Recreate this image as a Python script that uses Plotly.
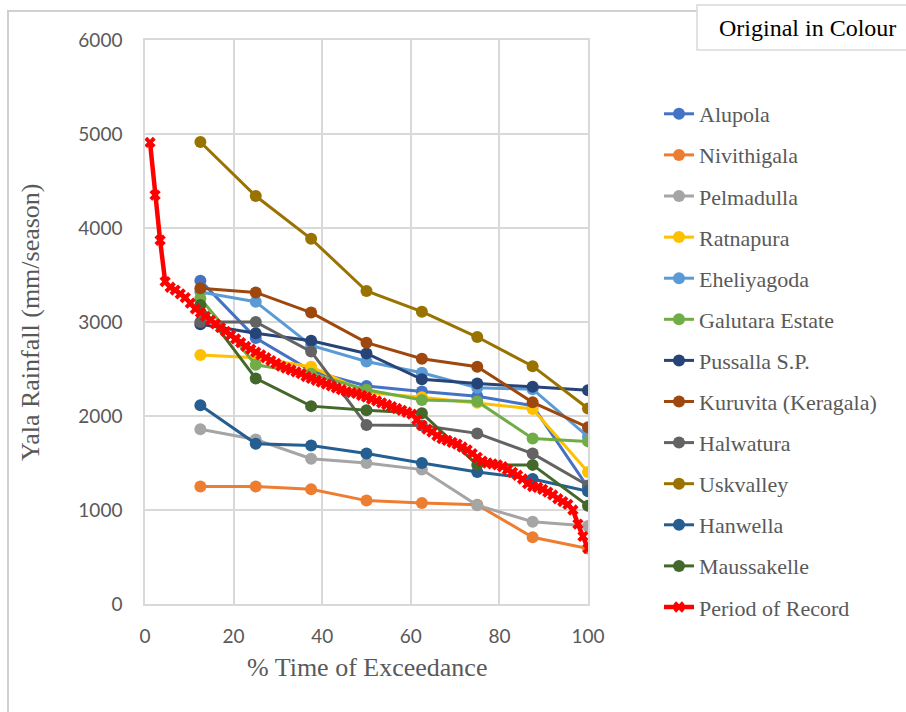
import plotly.graph_objects as go

# Exceedance positions (%) of the eight station quantiles
station_pct = [12.5, 25, 37.5, 50, 62.5, 75, 87.5, 100]

# Seasonal (Yala) rainfall in mm/season at each exceedance level
alupola = [3440, 2830, 2480, 2320, 2260, 2210, 2110, 1240]
nivithigala = [1250, 1250, 1220, 1100, 1075, 1055, 710, 590]
pelmadulla = [1860, 1750, 1545, 1500, 1430, 1050, 875, 830]
ratnapura = [2650, 2620, 2525, 2250, 2200, 2140, 2075, 1405]
eheliyagoda = [3320, 3215, 2750, 2580, 2460, 2300, 2285, 1780]
galutara = [3250, 2545, 2450, 2280, 2170, 2155, 1760, 1730]
pussalla = [2975, 2880, 2800, 2665, 2390, 2345, 2310, 2275]
kuruvita = [3360, 3315, 3100, 2780, 2610, 2525, 2145, 1880]
halwatura = [3000, 3000, 2685, 1905, 1900, 1815, 1600, 1260]
uskvalley = [4915, 4340, 3885, 3330, 3110, 2840, 2530, 2080]
hanwella = [2115, 1705, 1685, 1600, 1500, 1405, 1330, 1200]
maussakelle = [3180, 2400, 2105, 2060, 2030, 1480, 1480, 1045]

# Full period of record, ranked (88 seasons)
record_vals = [
    4910, 4350, 3870, 3430, 3370, 3340, 3300, 3260, 3200, 3140,
    3100, 3060, 3020, 2980, 2940, 2900, 2860, 2820, 2780, 2740,
    2710, 2680, 2650, 2620, 2590, 2560, 2530, 2510, 2490, 2470,
    2450, 2420, 2400, 2380, 2360, 2340, 2320, 2300, 2280, 2260,
    2250, 2240, 2220, 2200, 2180, 2160, 2140, 2120, 2100, 2080,
    2060, 2040, 2020, 1960, 1900, 1860, 1830, 1790, 1760, 1740,
    1720, 1700, 1670, 1640, 1600, 1560, 1520, 1500, 1490, 1480,
    1460, 1430, 1400, 1370, 1330, 1280, 1250, 1240, 1220, 1190,
    1160, 1120, 1090, 1060, 1000, 850, 720, 590,
]
record_pct = [100.0 * (i + 1) / len(record_vals) for i in range(len(record_vals))]

x_ticks = [0, 20, 40, 60, 80, 100]
y_ticks = [0, 1000, 2000, 3000, 4000, 5000, 6000]

stations = [
    ("Alupola", alupola, "#4472C4"),
    ("Nivithigala", nivithigala, "#ED7D31"),
    ("Pelmadulla", pelmadulla, "#A5A5A5"),
    ("Ratnapura", ratnapura, "#FFC000"),
    ("Eheliyagoda", eheliyagoda, "#5B9BD5"),
    ("Galutara Estate", galutara, "#70AD47"),
    ("Pussalla S.P.", pussalla, "#264478"),
    ("Kuruvita (Keragala)", kuruvita, "#9E480E"),
    ("Halwatura", halwatura, "#636363"),
    ("Uskvalley", uskvalley, "#997300"),
    ("Hanwella", hanwella, "#255E91"),
    ("Maussakelle", maussakelle, "#43682B"),
]

W, H = 906, 712
L, R, T, B = 145, 318, 40, 108
PW, PH = W - L - R, H - T - B


def px(x):
    return (x - L) / PW


def py(y):
    return (H - B - y) / PH


fig = go.Figure()

for name, vals, color in stations:
    fig.add_trace(go.Scatter(
        x=station_pct, y=vals, name=name, legendgroup=name,
        mode="lines+markers",
        line=dict(color=color, width=3),
        marker=dict(symbol="circle", size=12, color=color),
    ))

fig.add_trace(go.Scatter(
    x=record_pct, y=record_vals, name="Period of Record", legendgroup="record",
    mode="lines+markers",
    line=dict(color="#FF0000", width=4.5),
    marker=dict(symbol="x", size=10, color="#FF0000"),
))

serif = "Liberation Serif, Times New Roman, serif"
grey_txt = "#595959"

fig.update_layout(
    width=W, height=H,
    margin=dict(l=L, r=R, t=T, b=B),
    paper_bgcolor="white", plot_bgcolor="white",
    showlegend=True,
    legend=dict(
        x=px(659), y=py(93), xanchor="left", yanchor="top",
        font=dict(family=serif, size=22, color=grey_txt),
        tracegroupgap=9.5, bgcolor="rgba(0,0,0,0)", maxheight=1.0,
    ),
    xaxis=dict(
        range=[0, 100], tickvals=x_ticks, showgrid=True, gridcolor="#D9D9D9", gridwidth=1.5,
        zeroline=False, showline=True, linecolor="#D9D9D9", linewidth=1.5, mirror=True,
        ticks="outside", ticklen=14, tickcolor="rgba(0,0,0,0)",
        tickfont=dict(family="Lato, sans-serif", size=19, color=grey_txt),
    ),
    yaxis=dict(
        range=[0, 6000], tickvals=y_ticks, showgrid=True, gridcolor="#D9D9D9", gridwidth=1.5,
        zeroline=False, showline=True, linecolor="#D9D9D9", linewidth=1.5, mirror=True,
        ticks="outside", ticklen=17, tickcolor="rgba(0,0,0,0)",
        tickfont=dict(family="Lato, sans-serif", size=19, color=grey_txt),
    ),
    shapes=[
        dict(type="rect", xref="paper", yref="paper",
             x0=px(8), x1=px(1200), y0=py(1000), y1=py(11),
             line=dict(color="#D0D0D0", width=2), fillcolor="rgba(0,0,0,0)", layer="below"),
        dict(type="rect", xref="paper", yref="paper",
             x0=px(697), x1=px(1200), y0=py(50), y1=py(5),
             line=dict(color="#D9D9D9", width=1.5), fillcolor="white", layer="above"),
    ],
    annotations=[
        dict(text="Original in Colour", xref="paper", yref="paper",
             x=px(807), y=py(28), xanchor="center", yanchor="middle", showarrow=False,
             font=dict(family=serif, size=24, color="black")),
        dict(text="Yala Rainfall (mm/season)", xref="paper", yref="paper",
             x=px(30), y=py(322), xanchor="center", yanchor="middle", showarrow=False,
             textangle=-90, font=dict(family=serif, size=26, color=grey_txt)),
        dict(text="% Time of Exceedance", xref="paper", yref="paper",
             x=px(367), y=py(667), xanchor="center", yanchor="middle", showarrow=False,
             font=dict(family=serif, size=26, color=grey_txt)),
    ],
)

fig.write_html("out.html")
